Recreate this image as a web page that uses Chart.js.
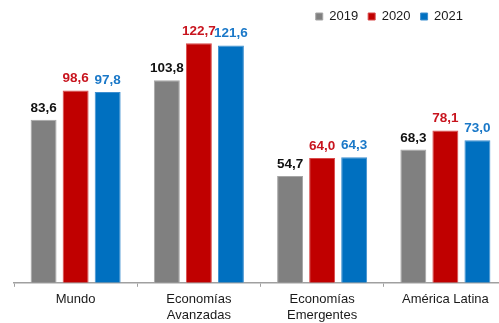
<!DOCTYPE html>
<html><head><meta charset="utf-8">
<script src="https://cdn.jsdelivr.net/npm/chart.js"></script>
<style>
html,body{margin:0;padding:0;background:#fff;overflow:hidden;}
#wrap{width:507px;height:323px;position:relative;}
</style></head>
<body>
<div id="wrap"><canvas id="c"></canvas></div>
<script>
const categories = ["Mundo", ["Economías","Avanzadas"], ["Economías","Emergentes"], "América Latina"];
const seriesNames = ["2019", "2020", "2021"];
const values2019 = [83.6, 103.8, 54.7, 68.3];
const values2020 = [98.6, 122.7, 64.0, 78.1];
const values2021 = [97.8, 121.6, 64.3, 73.0];
const barColors = ["#808080", "#C00000", "#0070C0"];
const borderColors = ["#a6a6a6", "#d94a4a", "#3d8fd0"];
const labelColors = ["#111111", "#C8141E", "#1A78C8"];

const valueLabels = {
  id: 'valueLabels',
  afterDatasetsDraw(chart) {
    const ctx = chart.ctx;
    ctx.save();
    ctx.font = 'bold 13.5px "Liberation Sans", Arial, sans-serif';
    ctx.textAlign = 'center';
    ctx.textBaseline = 'alphabetic';
    chart.data.datasets.forEach((ds, di) => {
      const meta = chart.getDatasetMeta(di);
      ctx.fillStyle = labelColors[di];
      meta.data.forEach((bar, i) => {
        const txt = ds.data[i].toFixed(1).replace('.', ',');
        ctx.fillText(txt, bar.x, bar.y - 8);
      });
    });
    ctx.restore();
  }
};

const legendShift = {
  id: 'legendShift',
  afterLayout(chart) {
    const lg = chart.legend;
    if (lg) { lg.right -= 34; }
  }
};

new Chart(document.getElementById('c'), {
  type: 'bar',
  data: {
    labels: categories,
    datasets: [values2019, values2020, values2021].map((d, i) => ({
      label: seriesNames[i],
      data: d,
      backgroundColor: barColors[i],
      borderColor: borderColors[i],
      borderWidth: 1,
      categoryPercentage: 0.78,
      barPercentage: 0.81
    }))
  },
  options: {
    responsive: true,
    maintainAspectRatio: false,
    animation: false,
    layout: { padding: { left: 14, right: 0, top: 0, bottom: -5 } },
    plugins: {
      tooltip: { enabled: false },
      legend: {
        position: 'top',
        align: 'end',
        labels: {
          boxWidth: 7, boxHeight: 7, padding: 10,
          color: '#1a1a1a',
          font: { size: 13, family: '"Liberation Sans", Arial, sans-serif' }
        }
      }
    },
    scales: {
      x: {
        grid: { display: true, drawOnChartArea: false, drawTicks: true, tickLength: 4, color: '#a0a0a0', offset: true },
        border: { display: true, color: '#a0a0a0', width: 1.5 },
        ticks: {
          color: '#1a1a1a', padding: 5, maxRotation: 0, autoSkip: false,
          font: { size: 13, family: '"Liberation Sans", Arial, sans-serif' }
        }
      },
      y: { display: false, min: 0, max: 128 }
    }
  },
  plugins: [valueLabels, legendShift]
});
</script>
</body></html>
